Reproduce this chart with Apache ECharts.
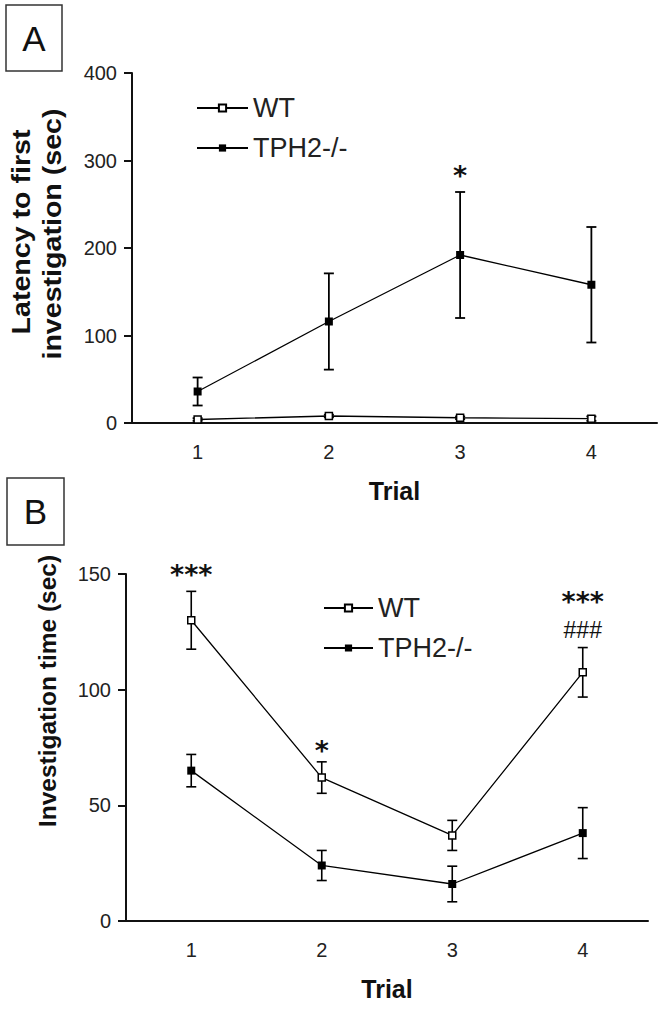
<!DOCTYPE html>
<html>
<head>
<meta charset="utf-8">
<script src="https://cdn.jsdelivr.net/npm/echarts@6/dist/echarts.min.js"></script>
<style>
html,body{margin:0;padding:0;background:#fff;}
#chart{width:664px;height:1009px;}
</style>
</head>
<body>
<div id="chart"></div>
<script>
// ---- data ----
const trials = ['1', '2', '3', '4'];
const yTicksA = [0, 100, 200, 300, 400];
const yTicksB = [0, 50, 100, 150];
const seriesNames = ['WT', 'TPH2-/-'];

// Panel A: latency to first investigation (sec)
const latencyWT = [4, 8, 6, 5];
const latencyWTsem = [1.5, 1.5, 1.5, 2.5];
const latencyKO = [36, 116, 192, 158];
const latencyKOsem = [16, 55, 72, 66];

// Panel B: investigation time (sec)
const timeWT = [130, 62, 37, 107.5];
const timeWTsem = [12.5, 6.8, 6.5, 10.7];
const timeKO = [65, 24, 16, 38];
const timeKOsem = [7, 6.5, 7.7, 11];

// significance marks: [trial index, value, text]
const marksA = [[2, 288.5, '*']];
const marksB = [[0, 152, '***'], [1, 76, '*'], [3, 140.6, '***'], [3, 126, '###']];

// ---- helpers ----
function errData(mean, sem) {
  return mean.map((m, i) => [i, m - sem[i], m + sem[i]]);
}
function errorSeries(gi, mean, sem, lw) {
  return {
    type: 'custom', xAxisIndex: gi, yAxisIndex: gi, z: 1, silent: true,
    data: errData(mean, sem),
    renderItem: function (params, api) {
      const i = api.value(0);
      const lo = api.coord([i, api.value(1)]);
      const hi = api.coord([i, api.value(2)]);
      const w = 5;
      const st = { stroke: '#000', lineWidth: lw };
      return {
        type: 'group', children: [
          { type: 'line', shape: { x1: lo[0], y1: lo[1], x2: hi[0], y2: hi[1] }, style: st },
          { type: 'line', shape: { x1: hi[0] - w, y1: hi[1], x2: hi[0] + w, y2: hi[1] }, style: st },
          { type: 'line', shape: { x1: lo[0] - w, y1: lo[1], x2: lo[0] + w, y2: lo[1] }, style: st }
        ]
      };
    }
  };
}
function markSeries(gi, marks) {
  return {
    type: 'custom', xAxisIndex: gi, yAxisIndex: gi, z: 5, silent: true,
    data: marks.map(m => [m[0], m[1]]),
    renderItem: function (params, api) {
      const p = api.coord([api.value(0), api.value(1)]);
      const t = marks[params.dataIndex][2];
      const isStar = t.indexOf('*') >= 0;
      const fs = isStar ? 27 : 23;
      const font = isStar ? 'bold ' + fs + 'px "DejaVu Sans"' : fs + 'px "Liberation Sans", Arial';
      return {
        type: 'text', x: p[0], y: p[1] + (isStar ? fs * 0.2 : 0),
        style: { text: t, font: font, fill: '#111', align: 'center', verticalAlign: 'middle' }
      };
    }
  };
}
function lineSeries(gi, name, values, open) {
  return {
    type: 'line', name: name, xAxisIndex: gi, yAxisIndex: gi, z: 3,
    data: values,
    symbol: 'rect', symbolSize: open ? 7 : 8,
    showAllSymbol: true,
    lineStyle: { color: '#000', width: 1.3 },
    itemStyle: open ? { color: '#fff', borderColor: '#000', borderWidth: 1.5 } : { color: '#000', borderColor: '#000', borderWidth: 0 },
    emphasis: { disabled: true },
    animation: false
  };
}
const fontFam = '"Liberation Sans", Arial, sans-serif';
function xAxis(gi) {
  return {
    type: 'category', gridIndex: gi, data: trials, boundaryGap: true,
    name: 'Trial', nameLocation: 'middle', nameGap: 55,
    nameTextStyle: { fontSize: 25, fontWeight: 'bold', color: '#111', fontFamily: fontFam },
    axisLine: { lineStyle: { color: '#111', width: 2 } },
    axisTick: { alignWithLabel: true, length: 8, lineStyle: { color: '#111', width: 2 } },
    axisLabel: { fontSize: 20, color: '#222', margin: 19, fontFamily: fontFam },
    splitLine: { show: false }
  };
}
function yAxis(gi, ticks) {
  return {
    type: 'value', gridIndex: gi, min: ticks[0], max: ticks[ticks.length - 1],
    interval: ticks[1] - ticks[0],
    axisLine: { show: true, lineStyle: { color: '#111', width: 2 } },
    axisTick: { show: true, length: 8, lineStyle: { color: '#111', width: 2 } },
    axisLabel: { fontSize: 20, color: '#222', margin: 15, fontFamily: fontFam },
    splitLine: { show: false }
  };
}
function legend(left, top, w) {
  return {
    data: seriesNames, orient: 'vertical', left: left, top: top, padding: 0,
    itemWidth: w, itemHeight: 9, itemGap: 12, selectedMode: false,
    textStyle: { fontSize: 27, color: '#222', fontFamily: fontFam, lineHeight: 28 }
  };
}
function panelLabel(x, y, w, h, letter) {
  return [
    { type: 'rect', shape: { x: x, y: y, width: w, height: h }, style: { fill: 'none', stroke: '#333', lineWidth: 1.5 } },
    { type: 'text', x: x + w / 2, y: y + h / 2, style: { text: letter, font: '35px ' + fontFam, fill: '#111', align: 'center', verticalAlign: 'middle' } }
  ];
}
function vTitle(x, y, text, fs, sx) {
  return { type: 'text', x: x, y: y, rotation: Math.PI / 2, scaleX: sx, style: { text: text, font: 'bold ' + fs + 'px ' + fontFam, fill: '#111', align: 'center', verticalAlign: 'middle' } };
}

const chart = echarts.init(document.getElementById('chart'), null, { renderer: 'svg' });
chart.setOption({
  animation: false,
  backgroundColor: '#fff',
  grid: [
    { left: 132, top: 73, width: 525, height: 350, containLabel: false, outerBoundsMode: 'none' },
    { left: 126, top: 574, width: 522, height: 347, containLabel: false, outerBoundsMode: 'none' }
  ],
  xAxis: [xAxis(0), xAxis(1)],
  yAxis: [yAxis(0, yTicksA), yAxis(1, yTicksB)],
  legend: [legend(196, 94, 51), legend(323, 594, 49)],
  graphic: [].concat(
    panelLabel(6, 5, 56, 66, 'A'),
    panelLabel(7, 478, 57, 67, 'B'),
    [
      vTitle(21, 232, 'Latency to first', 26, 1.1),
      vTitle(52, 234, 'investigation (sec)', 26, 1.1),
      vTitle(47, 691, 'Investigation time (sec)', 24.5, 1)
    ]
  ),
  series: [
    errorSeries(0, latencyWT, latencyWTsem, 1.8),
    errorSeries(0, latencyKO, latencyKOsem, 1.8),
    lineSeries(0, 'WT', latencyWT, true),
    lineSeries(0, 'TPH2-/-', latencyKO, false),
    markSeries(0, marksA),
    errorSeries(1, timeWT, timeWTsem, 1.6),
    errorSeries(1, timeKO, timeKOsem, 1.6),
    lineSeries(1, 'WT', timeWT, true),
    lineSeries(1, 'TPH2-/-', timeKO, false),
    markSeries(1, marksB)
  ]
});
</script>
</body>
</html>
